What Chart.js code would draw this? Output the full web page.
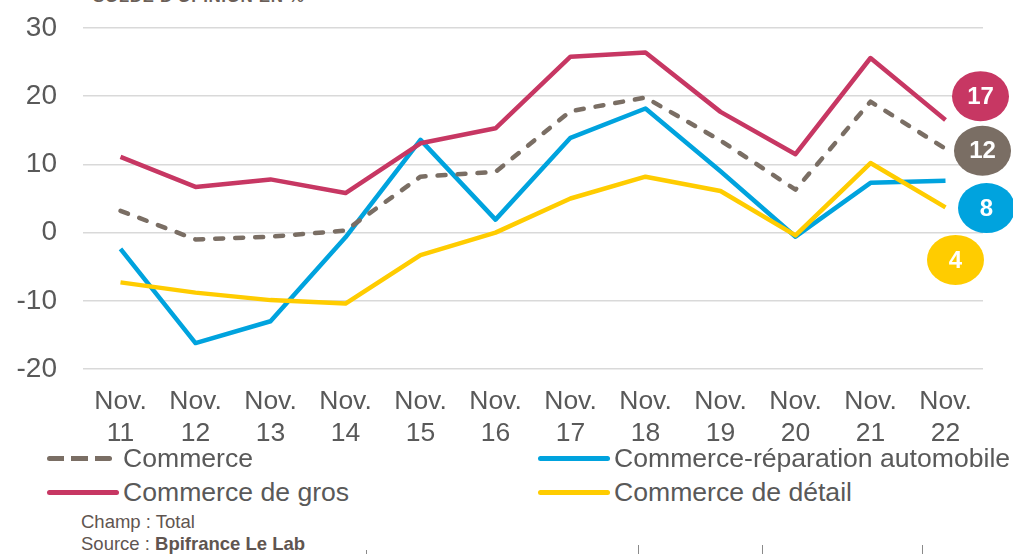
<!DOCTYPE html>
<html>
<head>
<meta charset="utf-8">
<script src="https://cdn.jsdelivr.net/npm/chart.js@4.4.1/dist/chart.umd.min.js"></script>
<style>
  body { margin: 0; width: 1013px; height: 554px; overflow: hidden; background: #fff; position: relative;
         font-family: "Liberation Sans", Arial, sans-serif; }
  #chartBox { position: absolute; left: 0; top: 0; width: 1013px; height: 460px; }
  #title { position: absolute; left: 93px; top: -13px; font-size: 17px; font-weight: bold; color: #6b5f58; letter-spacing: 0.6px; }
  .leg { position: absolute; display: flex; align-items: center; font-size: 26.6px; color: #595959; white-space: nowrap; }
  .swatch { width: 72px; height: 5px; border-radius: 3px; margin-right: 4px; }
  .note { position: absolute; left: 81px; font-size: 18.5px; color: #5f5550; }
  .sep { position: absolute; top: 545px; width: 1px; height: 9px; background: #8a8a8a; }
</style>
</head>
<body>
<div id="title">SOLDE D'OPINION EN %</div>
<div id="chartBox"><canvas id="chart"></canvas></div>
<div id="legend"></div>
<div class="note" style="top:511px">Champ : Total</div>
<div class="note" style="top:533px">Source : <b>Bpifrance Le Lab</b></div>
<div class="sep" style="left:366px;top:550px;height:4px"></div>
<div class="sep" style="left:638px"></div>
<div class="sep" style="left:762px"></div>
<div class="sep" style="left:922px"></div>
<script>
'use strict';

// data
const years = ['11', '12', '13', '14', '15', '16', '17', '18', '19', '20', '21', '22'];
const commerce = [3.2, -1.0, -0.6, 0.3, 8.2, 8.9, 17.8, 19.8, 13.5, 6.3, 19.2, 12.3];
const commerceDetail = [-7.3, -8.8, -9.9, -10.4, -3.3, 0.0, 5.0, 8.2, 6.1, -0.4, 10.2, 3.7];
const commerceGros = [11.1, 6.7, 7.8, 5.8, 13.1, 15.3, 25.8, 26.4, 17.7, 11.5, 25.6, 16.5];
const commerceAuto = [-2.4, -16.2, -13.0, -0.7, 13.6, 1.9, 13.9, 18.2, 9.0, -0.6, 7.3, 7.6];
const yTicks = [-20, -10, 0, 10, 20, 30];

const grey = '#7a6e64';
const yellow = '#ffcc00';
const pink = '#c73763';
const blue = '#00a3de';

const canvasElem = document.getElementById('chart');

const datasets = [
  { label: 'Commerce', data: commerce, borderColor: grey, borderDash: [8, 12], borderCapStyle: 'round' },
  { label: 'Commerce de détail', data: commerceDetail, borderColor: yellow },
  { label: 'Commerce de gros', data: commerceGros, borderColor: pink },
  { label: 'Commerce-réparation automobile', data: commerceAuto, borderColor: blue },
];
datasets.forEach(function (ds) {
  ds.borderWidth = 4.5;
  ds.pointRadius = 0;
  ds.tension = 0;
  ds.fill = false;
  ds.borderJoinStyle = 'round';
});

// where the end-value bubbles sit (offset from last point, in axis units for y)
const badgeSpots = [
  { dx: 37, y: 12.0 },
  { dx: 10, y: -4.0 },
  { dx: 35, y: 20.0 },
  { dx: 41, y: 3.6 },
];

const badgePlugin = {
  id: 'badges',
  afterDatasetsDraw(chart) {
    const ctx = chart.ctx;
    const xs = chart.scales.x;
    const ys = chart.scales.y;
    chart.data.datasets.forEach(function (ds, i) {
      const last = ds.data.length - 1;
      const spot = badgeSpots[i];
      const cx = xs.getPixelForValue(last) + spot.dx;
      const cy = ys.getPixelForValue(spot.y);
      ctx.save();
      ctx.beginPath();
      ctx.ellipse(cx, cy, 28.5, 25, 0, 0, Math.PI * 2);
      ctx.fillStyle = ds.borderColor;
      ctx.fill();
      ctx.fillStyle = '#fff';
      ctx.font = 'bold 24px "Liberation Sans", Arial, sans-serif';
      ctx.textAlign = 'center';
      ctx.textBaseline = 'middle';
      ctx.fillText(String(Math.round(ds.data[last])), cx, cy + 1);
      ctx.restore();
    });
  },
};

const config = {
  type: 'line',
  data: {
    labels: years.map(function (y) { return ['Nov.', y]; }),
    datasets: datasets,
  },
  options: {
    responsive: true,
    maintainAspectRatio: false,
    animation: false,
    layout: { padding: { top: 28, right: 30, left: 0, bottom: 0 } },
    plugins: { legend: { display: false }, tooltip: { enabled: false } },
    scales: {
      x: {
        offset: true,
        grid: { display: false, drawTicks: false },
        border: { display: false },
        ticks: { color: '#595959', font: { size: 26.5, family: '"Liberation Sans", Arial, sans-serif', lineHeight: 1.2 }, padding: 17, maxRotation: 0, autoSkip: false },
        afterFit(scale) { scale.height = 91; },
      },
      y: {
        min: -20,
        max: 30,
        afterBuildTicks(scale) { scale.ticks = yTicks.map(function (v) { return { value: v }; }); },
        grid: { color: '#d9d9d9', lineWidth: 1.6, drawTicks: false },
        border: { display: false },
        ticks: { color: '#595959', font: { size: 28, family: '"Liberation Sans", Arial, sans-serif' }, padding: 26 },
        afterFit(scale) {
          scale.width = 83;
          // tick padding shouldn't push the plot down
          scale.paddingTop = 0;
          scale.paddingBottom = 0;
        },
      },
    },
  },
  plugins: [badgePlugin],
};

const myChart = new Chart(canvasElem, config);

// html legend, two columns like the original
const legendOrder = [
  { ds: 0, left: 47, top: 458 },
  { ds: 3, left: 538, top: 458 },
  { ds: 2, left: 47, top: 492 },
  { ds: 1, left: 538, top: 492 },
];
const legendElem = document.getElementById('legend');
legendOrder.forEach(function (item) {
  const ds = datasets[item.ds];
  const row = document.createElement('div');
  row.className = 'leg';
  row.style.left = item.left + 'px';
  row.style.top = (item.top - 16) + 'px';
  row.style.height = '32px';
  const sw = document.createElement('div');
  sw.className = 'swatch';
  if (ds.borderDash) {
    sw.style.background = 'repeating-linear-gradient(90deg,' + ds.borderColor + ' 0 17px, transparent 17px 24px)';
    sw.style.width = '65px';
    sw.style.marginRight = '11px';
  } else {
    sw.style.background = ds.borderColor;
  }
  row.appendChild(sw);
  const txt = document.createElement('span');
  txt.textContent = ds.label;
  row.appendChild(txt);
  legendElem.appendChild(row);
});
</script>
</body>
</html>
